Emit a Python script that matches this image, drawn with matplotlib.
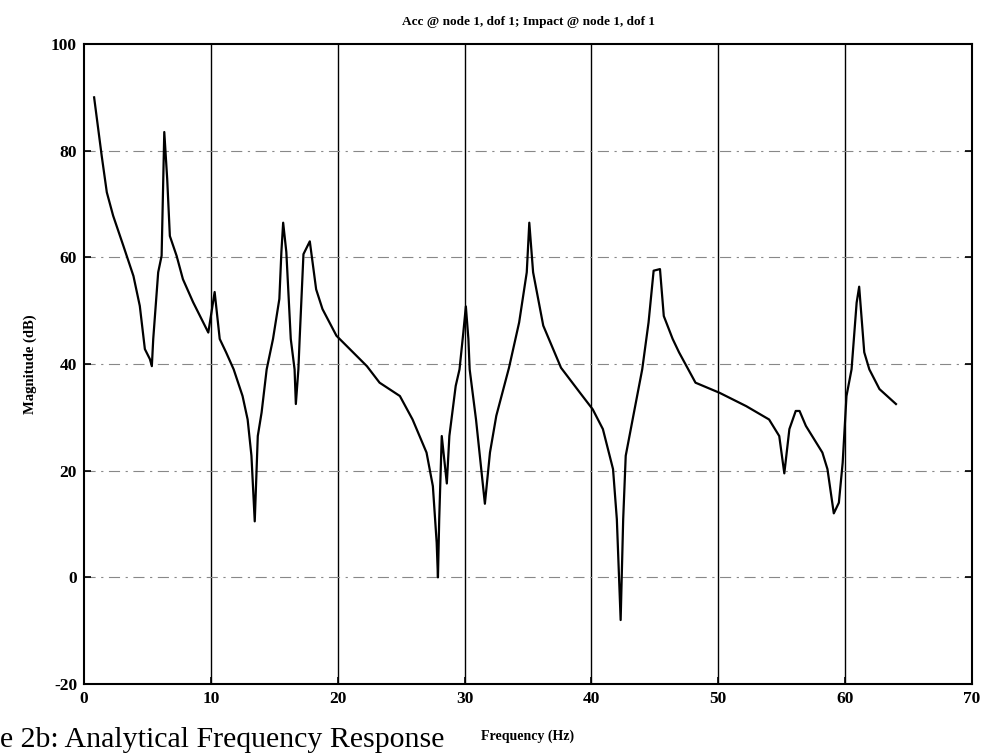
import numpy as np
import matplotlib.pyplot as plt

# analytical FRF, accelerance at node 1 due to impact at node 1
freq = [0.8, 1.4, 1.8, 2.3, 3.1, 3.9, 4.4, 4.8, 5.2, 5.35, 5.46, 5.85, 6.12, 6.33,
        6.56, 6.77, 7.3, 7.8, 8.6, 9.8, 10.3, 10.7, 11.2, 11.8, 12.5, 12.9, 13.2,
        13.46, 13.7, 14.0, 14.4, 14.9, 15.4, 15.56, 15.7, 15.95, 16.3, 16.6, 16.7,
        16.9, 17.0, 17.3, 17.8, 18.3, 18.8, 19.9, 20.7, 22.3, 23.3, 24.9, 25.9,
        27.0, 27.5, 27.8, 27.9, 28.0, 28.2, 28.6, 28.8, 29.3, 29.6, 29.9, 30.1,
        30.3, 30.4, 30.9, 31.6, 32.0, 32.5, 33.5, 34.3, 34.9, 35.1, 35.4, 36.2,
        37.6, 39.1, 40.1, 40.9, 41.7, 42.0, 42.3, 42.5, 42.7, 43.3, 44.0, 44.5,
        44.9, 45.4, 45.7, 46.4, 46.9, 48.2, 50.1, 52.2, 54.0, 54.8, 55.2, 55.6,
        56.1, 56.4, 56.9, 58.2, 58.6, 59.1, 59.5, 59.8, 60.1, 60.5, 60.9, 61.1,
        61.5, 61.9, 62.7, 64.0]
mag = [90.0, 79.0, 72.2, 67.8, 62.2, 56.5, 50.9, 42.8, 40.9, 39.6, 44.7, 57.2, 60.3, 83.5,
       74.7, 64.0, 60.3, 55.9, 51.6, 45.9, 53.5, 44.7, 42.2, 39.0, 34.0, 29.6, 22.8,
       10.5, 26.5, 30.9, 39.0, 44.7, 52.2, 61.0, 66.5, 61.0, 44.7, 39.0, 32.5,
       39.0, 44.7, 60.6, 63.0, 54.0, 50.3, 45.3, 43.4, 39.6, 36.5, 34.0, 29.6,
       23.4, 17.1, 6.5, 0.0, 10.9, 26.5, 17.6, 26.5, 35.9, 39.0, 45.9, 50.8,
       44.7, 39.0, 29.6, 13.8, 23.4, 30.3, 39.3, 47.8, 57.2, 66.5, 57.2, 47.2,
       39.3, 34.6, 31.5, 27.8, 20.3, 10.9, -8.0, 10.9, 22.8, 30.3, 39.0, 47.8,
       57.5, 57.8, 49.0, 44.7, 42.2, 36.5, 34.6, 32.1, 29.6, 26.5, 19.5, 27.8,
       31.2, 31.2, 28.4, 23.4, 20.3, 12.0, 14.0, 21.5, 34.0, 39.0, 51.5, 54.5,
       42.2, 39.0, 35.3, 32.5]

xticks = [0, 10, 20, 30, 40, 50, 60, 70]
yticks = [-20, 0, 20, 40, 60, 80, 100]

serif = ['Liberation Serif', 'DejaVu Serif']
plt.rcParams['axes.unicode_minus'] = False

fig = plt.figure(figsize=(9.89, 7.55), dpi=100)
ax = fig.add_axes([0.0849, 0.094, 0.898, 0.8477])

ax.plot(freq, mag, color='black', lw=1.6)

ax.set_xlim(0, 70)
ax.set_ylim(-20, 100)
ax.set_xticks(xticks)
ax.set_yticks(yticks)

# solid vertical grid, broken horizontal grid
for xv in xticks[1:-1]:
    ax.axvline(xv, color='black', lw=1.0, zorder=0)
for yv in yticks[1:-1]:
    ax.axhline(yv, color='#888888', lw=0.8, ls=(0, (10, 5, 2, 5)), zorder=0)

ax.tick_params(direction='in', length=5, width=1.2, right=True, top=False,
               pad=5)
for lab in ax.get_xticklabels() + ax.get_yticklabels():
    lab.set_family(serif)
    lab.set_fontweight('bold')
    lab.set_fontsize(12.5)
for sp in ax.spines.values():
    sp.set_linewidth(1.5)

ax.set_title('Acc @ node 1, dof 1; Impact @ node 1, dof 1', family=serif,
             fontweight='bold', fontsize=9.5, pad=14)
ax.set_xlabel('Frequency (Hz)', family=serif, fontweight='bold', fontsize=10,
              labelpad=16)
ax.set_ylabel('Magnitude (dB)', family=serif, fontweight='bold', fontsize=10.5,
              labelpad=10)

fig.text(0.0, 0.011, 'e 2b: Analytical Frequency Response', family=serif,
         fontsize=21.5, ha='left', va='baseline')

fig.savefig('out.png', dpi=100)
